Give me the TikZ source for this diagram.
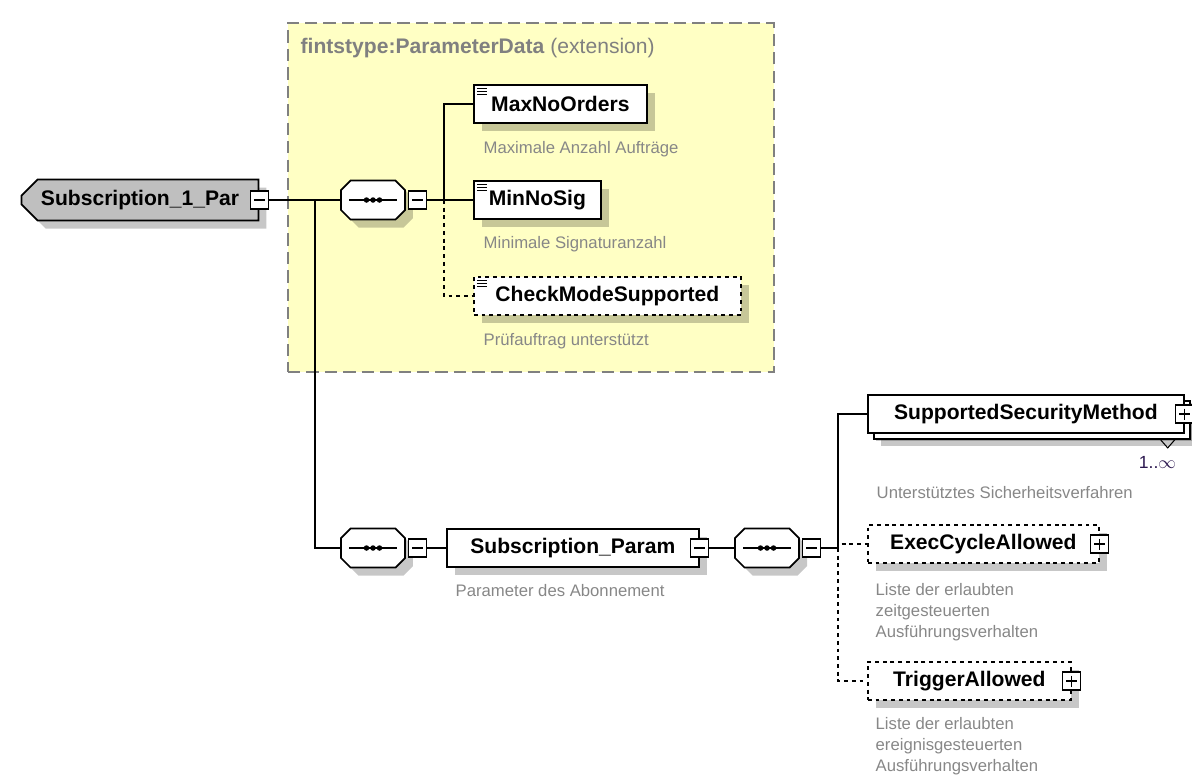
\documentclass[tikz,border=0pt]{standalone}
\usepackage{fontspec}
\setmainfont{Liberation Sans}
\usetikzlibrary{positioning,shapes.misc,shadows}
\definecolor{extyellow}{RGB}{255,255,196}
\definecolor{descgray}{RGB}{135,135,135}
\definecolor{multcol}{RGB}{45,25,80}

\begin{document}
\begin{tikzpicture}[
  x=0.02cm, y=-0.02cm,
  line width=0.8pt,
  shadowed/.style={drop shadow={shadow xshift=0.16cm, shadow yshift=-0.16cm, fill=black, opacity=0.22}},
  namefont/.style={font=\fontsize{12}{14}\selectfont\bfseries},
  elem/.style={rectangle, draw, fill=white, line width=1pt, minimum height=0.76cm, inner sep=0pt, shadowed, namefont},
  optelem/.style={elem, dash pattern=on 2.2pt off 2.2pt},
  simple/.style={path picture={
      \foreach \k in {0,1,2}
        \draw[solid, line width=0.7pt] ([xshift=0.06cm, yshift=-0.07cm-\k*0.06cm]path picture bounding box.north west) -- ++(0.2cm,0);}},
  rootelem/.style={chamfered rectangle, chamfered rectangle corners={north west,south west},
      chamfered rectangle xsep=0.22cm, draw, fill=gray!50, line width=1pt,
      minimum width=4.74cm, minimum height=0.82cm, inner sep=0pt, shadowed, namefont},
  seqbox/.style={chamfered rectangle, chamfered rectangle xsep=0.2cm, draw, fill=white, line width=1pt,
      minimum width=1.28cm, minimum height=0.78cm, inner sep=0pt, shadowed,
      path picture={
        \draw[line width=0.8pt] ([xshift=0.16cm]path picture bounding box.west) -- ([xshift=-0.16cm]path picture bounding box.east);
        \foreach \d in {-0.13,0,0.13}
          \fill[black] ([xshift=\d cm]path picture bounding box.center) circle (0.055cm);}},
  minusbox/.style={rectangle, draw, fill=white, line width=0.8pt, minimum size=0.36cm, inner sep=0pt,
      path picture={\draw[line width=0.8pt] ([xshift=0.07cm]path picture bounding box.west) -- ([xshift=-0.07cm]path picture bounding box.east);}},
  plusbox/.style={minusbox,
      path picture={\draw[line width=0.8pt] ([xshift=0.07cm]path picture bounding box.west) -- ([xshift=-0.07cm]path picture bounding box.east);
        \draw[line width=0.8pt] ([yshift=-0.07cm]path picture bounding box.north) -- ([yshift=0.07cm]path picture bounding box.south);}},
  ext/.style={rectangle, draw=gray, fill=extyellow, dash pattern=on 7pt off 3.5pt, line width=1pt,
      minimum width=9.72cm, minimum height=6.98cm, inner sep=0pt},
  desc/.style={inner sep=0pt, text=descgray, align=left, font=\fontsize{9.5}{12}\selectfont},
  mult/.style={inner sep=0pt, text=multcol, font=\fontsize{10}{12}\selectfont},
  optline/.style={dash pattern=on 2.2pt off 2.2pt}
]
  \useasboundingbox (0,0) rectangle (1192,782);

  \node[ext, anchor=north west] (ext) at (287,22) {};
  \node[anchor=west, inner sep=0pt, text=gray, font=\fontsize{12}{14}\selectfont] (exttitle) at (300,48)
    {\textbf{fintstype:ParameterData} (extension)};

  \node[rootelem] (root) at (140,200) {Subscription\_1\_Par\hspace{0.3cm}};
  \node[minusbox] (rootm) at (root.east) {};

  \node[seqbox] (seq1) at (373,200) {\rule{0pt}{0.38cm}\hspace{0.88cm}};
  \node[minusbox, right=0.04cm of seq1] (seq1m) {};

  \node[elem, simple, anchor=west, minimum width=3.46cm] (maxno) at (473,104) {MaxNoOrders};
  \node[elem, simple, anchor=west, minimum width=2.54cm] (minno) at (473,200) {MinNoSig};
  \node[optelem, simple, anchor=west, minimum width=5.34cm] (checkmode) at (473,296) {CheckModeSupported};
  \node[desc, below right=0.34cm and 0.2cm of maxno.south west] (maxnodesc) {Maximale Anzahl Aufträge};
  \node[desc, below right=0.32cm and 0.2cm of minno.south west] (minnodesc) {Minimale Signaturanzahl};
  \node[desc, below right=0.34cm and 0.2cm of checkmode.south west] (checkmodedesc) {Prüfauftrag unterstützt};

  \node[seqbox] (seq2) at (373,548) {\rule{0pt}{0.38cm}\hspace{0.88cm}};
  \node[minusbox, right=0.04cm of seq2] (seq2m) {};
  \node[elem, anchor=west, minimum width=5.04cm] (subparam) at (446,548) {Subscription\_Param\hspace{0.12cm}};
  \node[minusbox] (subparamm) at (subparam.east) {};
  \node[desc, below right=0.32cm and 0.18cm of subparam.south west] (subparamdesc) {Parameter des Abonnement};

  \node[seqbox] (seq3) at (767,548) {\rule{0pt}{0.38cm}\hspace{0.88cm}};
  \node[minusbox, right=0.04cm of seq3] (seq3m) {};

  \node[elem, anchor=west, minimum width=6.32cm,
        drop shadow={shadow xshift=0.26cm, shadow yshift=-0.26cm, fill=black, opacity=0.22},
        copy shadow={shadow xshift=0.12cm, shadow yshift=-0.12cm}] (ssm) at (867,414) {SupportedSecurityMethod\hspace{0.1cm}};
  \node[plusbox] (ssmp) at (ssm.east) {};
  \coordinate (chev) at ([xshift=-0.34cm, yshift=-0.12cm]ssm.south east);
  \draw[line width=0.6pt] (chev) ++(-0.14cm,0) -- ++(0.14cm,-0.16cm) -- ++(0.14cm,0.16cm);
  \node[mult, below left=0.44cm and 0.16cm of ssm.south east] (ssmmult) {1..\ensuremath{\infty}};
  \node[desc, below right=1.04cm and 0.18cm of ssm.south west] (ssmdesc) {Unterstütztes Sicherheitsverfahren};

  \node[optelem, anchor=west, minimum width=4.62cm] (execc) at (867,544) {ExecCycleAllowed\hspace{0.2cm}};
  \node[plusbox] (execcp) at (execc.east) {};
  \node[desc, below right=0.38cm and 0.16cm of execc.south west] (execcdesc)
    {Liste der erlaubten\\zeitgesteuerten\\Ausführungsverhalten};

  \node[optelem, anchor=west, minimum width=4.06cm] (trigger) at (867,681) {TriggerAllowed\hspace{0.2cm}};
  \node[plusbox] (triggerp) at (trigger.east) {};
  \node[desc, below right=0.32cm and 0.16cm of trigger.south west] (triggerdesc)
    {Liste der erlaubten\\ereignisgesteuerten\\Ausführungsverhalten};

  \coordinate (j1) at (315,200);
  \coordinate (j2) at (444,200);
  \coordinate (j3) at (838,548);

  \draw (rootm.east) -- (seq1.west);
  \draw (j1) |- (seq2.west);
  \draw (seq1m.east) -- (minno.west);
  \draw (j2) |- (maxno.west);
  \draw[optline] (j2) |- (checkmode.west);
  \draw (seq2m.east) -- (subparam.west);
  \draw (subparamm.east) -- (seq3.west);
  \draw (seq3m.east) -- (j3);
  \draw (j3) |- (ssm.west);
  \draw[optline] (j3) |- (execc.west);
  \draw[optline] (j3) |- (trigger.west);

\end{tikzpicture}
\end{document}
